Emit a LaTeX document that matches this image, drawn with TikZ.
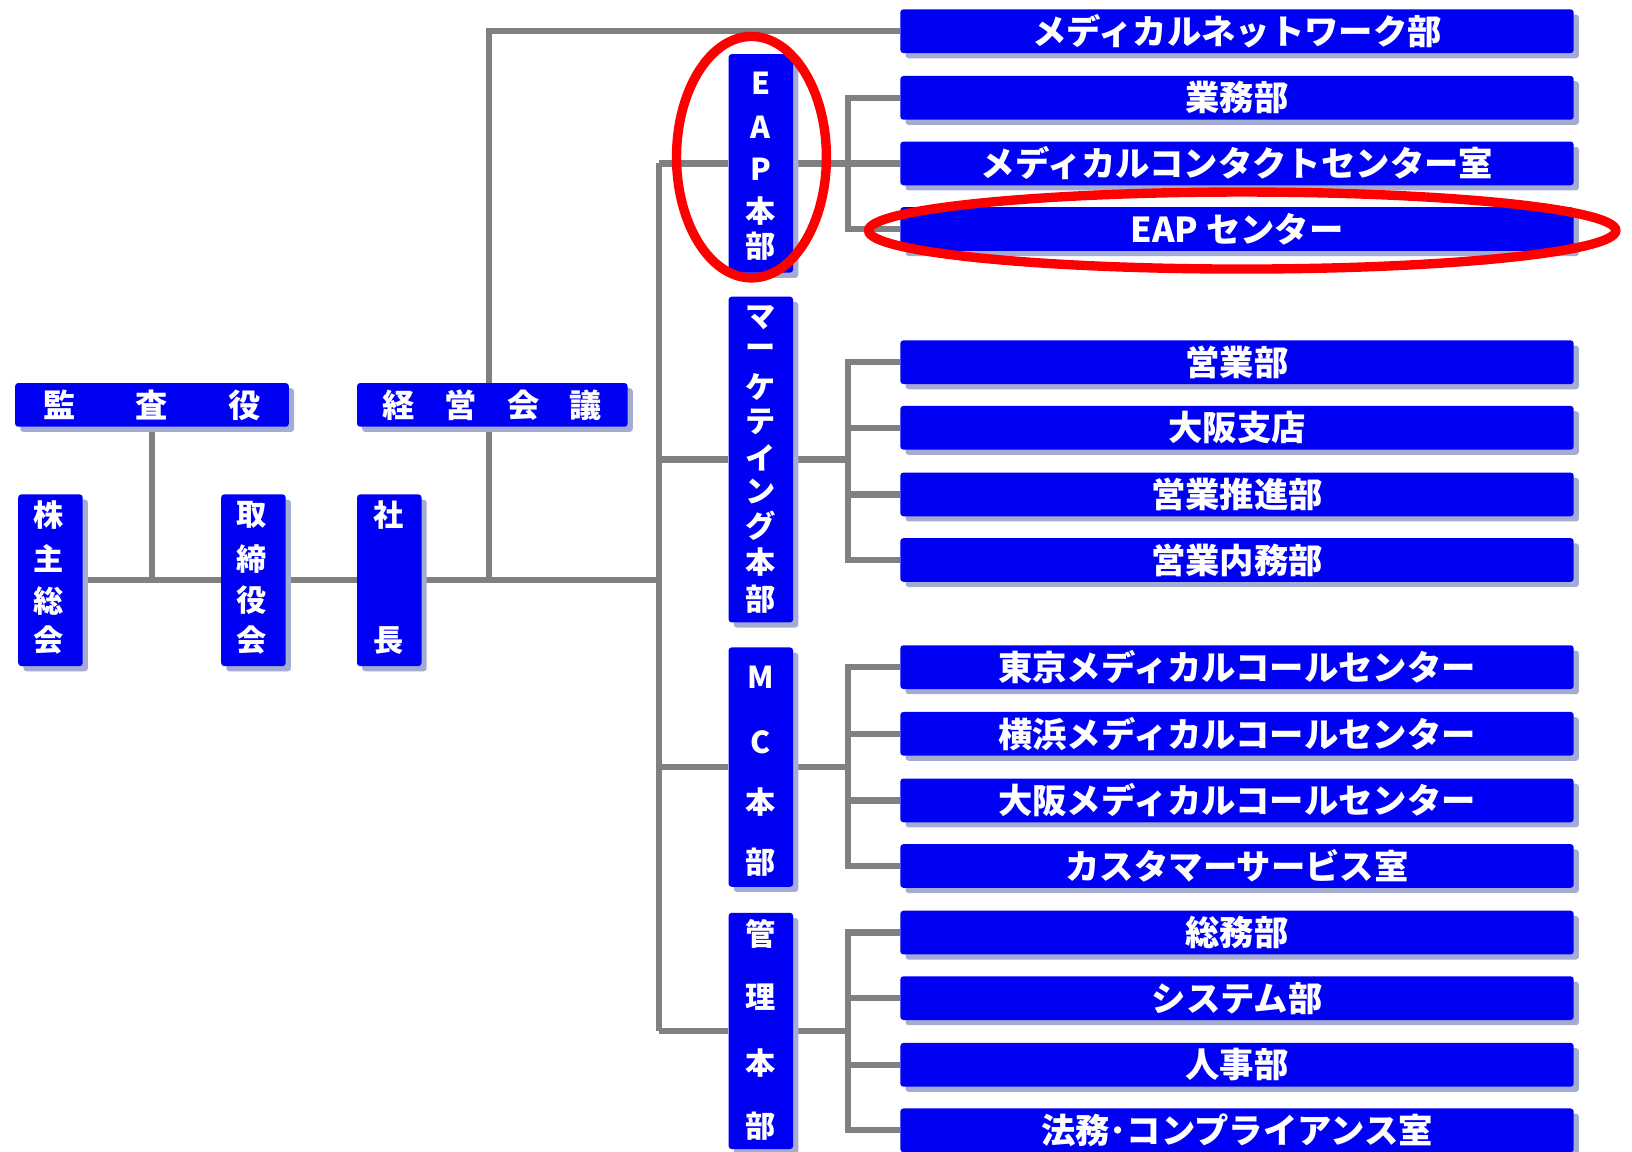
\documentclass[tikz,border=0pt]{standalone}
\usepackage{fontspec}
\setmainfont{Noto Sans CJK JP}
\usetikzlibrary{shadows}
\definecolor{boxblue}{RGB}{0,0,245}
\definecolor{shadecol}{RGB}{165,172,212}
\definecolor{linegray}{RGB}{128,128,128}
\definecolor{ringred}{RGB}{255,0,0}
\pgfdeclarelayer{bg}
\pgfsetlayers{bg,main}
\tikzset{
  box/.style={fill=boxblue, rounded corners=3pt, inner sep=0pt, text=white,
    drop shadow={shadow xshift=5pt, shadow yshift=-5pt, fill=shadecol, opacity=1}},
  wide/.style={box, minimum width=647pt, minimum height=42pt, font=\bfseries\fontsize{33}{33}\selectfont},
  flat/.style={box, minimum height=42pt, font=\bfseries\fontsize{31}{31}\selectfont},
  tall/.style={box, minimum width=62pt},
  vch/.style={text=white, inner sep=0pt, font=\bfseries\fontsize{29}{29}\selectfont},
  conn/.style={draw=linegray, line width=6pt},
  ring/.style={draw=ringred, line width=9pt},
}
\begin{document}
\begin{tikzpicture}[x=1pt,y=-1pt]
\useasboundingbox (0,0) rectangle (1568,1106);

% left part
\node[flat, minimum width=263pt] (kansa) at (146,389) {監\hspace{58pt}査\hspace{58pt}役};
\node[flat, minimum width=260pt] (keiei) at (473,389) {経\hspace{29pt}営\hspace{29pt}会\hspace{29pt}議};
\node[tall, minimum height=165pt] (kabu) at (48.5,557.5) {};
\node[tall, minimum height=165pt] (tori) at (243.5,557.5) {};
\node[tall, minimum height=165pt] (shacho) at (374,557.5) {};
\foreach \c/\y [count=\i] in {株/495,主/537,総/577,会/615} \node[vch] (kabu\i) at (47,\y) {\c};
\foreach \c/\y [count=\i] in {取/495,締/537,役/577,会/615} \node[vch] (tori\i) at (242,\y) {\c};
\node[vch] (sha1) at (373,495) {社};
\node[vch] (sha2) at (373,615) {長};

% division boxes
\node[tall, minimum height=210pt] (eap) at (731,157) {};
\node[tall, minimum height=313pt] (mkt) at (731,441.5) {};
\node[tall, minimum height=230pt] (mc) at (731,737) {};
\node[tall, minimum height=227pt] (kanri) at (731,990.5) {};
\foreach \c/\y [count=\i] in {E/80,A/122,P/163,本/203,部/237} \node[vch] (eapt\i) at (731,\y) {\c};
\foreach \c/\y [count=\i] in {マ/305,ー/337,ケ/372,テ/405,イ/440,ン/472,グ/505,本/540,部/576} \node[vch] (mktt\i) at (731,\y) {\c};
\foreach \c/\y [count=\i] in {M/651,C/713,本/771,部/828} \node[vch] (mct\i) at (731,\y) {\c};
\foreach \c/\y [count=\i] in {管/897,理/958,本/1021,部/1082} \node[vch] (kant\i) at (731,\y) {\c};

% right boxes
\node[wide] (net) at (1188.5,30) {メディカルネットワーク部};
\node[wide] (gyomu) at (1188.5,94) {業務部};
\node[wide] (mcc) at (1188.5,157) {メディカルコンタクトセンター室};
\node[wide] (eapc) at (1188.5,220) {EAP センター};
\node[wide] (eigyo) at (1188.5,348) {営業部};
\node[wide] (osaka) at (1188.5,411) {大阪支店};
\node[wide] (suishin) at (1188.5,475) {営業推進部};
\node[wide] (naimu) at (1188.5,538) {営業内務部};
\node[wide] (tokyo) at (1188.5,641) {東京メディカルコールセンター};
\node[wide] (yoko) at (1188.5,705) {横浜メディカルコールセンター};
\node[wide] (osmc) at (1188.5,769) {大阪メディカルコールセンター};
\node[wide] (cs) at (1188.5,832) {カスタマーサービス室};
\node[wide] (somu) at (1188.5,896) {総務部};
\node[wide] (sys) at (1188.5,959) {システム部};
\node[wide] (jinji) at (1188.5,1023) {人事部};
\node[wide] (homu) at (1188.5,1086) {法務･コンプライアンス室};

% junction coordinates
\coordinate (j1) at (146,557.5);
\coordinate (j2) at (470,557.5);
\coordinate (j3) at (633,557.5);
\coordinate (t1) at (633,157);
\coordinate (t2) at (633,441.5);
\coordinate (t3) at (633,737);
\coordinate (t4) at (633,990.5);
\coordinate (k1) at (470,30);
\coordinate (b1) at (815,157);
\coordinate (b2) at (815,441.5);
\coordinate (b3) at (815,737);
\coordinate (b4) at (815,990.5);

\begin{pgfonlayer}{bg}
\fill[white] (0,0) rectangle (1568,1106);
\draw[conn] (kabu.east) -- (tori.west);
\draw[conn] (kansa.south) -- (kansa.south |- j1);
\draw[conn] (tori.east) -- (shacho.west);
\draw[conn] (shacho.east) -- (j3);
\draw[conn] (j2) -- (k1) -- (net.west);
\draw[conn] (t1) -- (t4);
\draw[conn] (t1) -- (eap.west);
\draw[conn] (t2) -- (mkt.west);
\draw[conn] (t3) -- (mc.west);
\draw[conn] (t4) -- (kanri.west);
% EAP
\draw[conn] (eap.east) -- (mcc.west);
\draw[conn] (gyomu.west) -| (b1) |- (eapc.west);
% marketing
\draw[conn] (mkt.east) -- (b2);
\draw[conn] (eigyo.west) -| (b2) |- (naimu.west);
\draw[conn] (osaka.west) -- (osaka.west -| b2);
\draw[conn] (suishin.west) -- (suishin.west -| b2);
% MC
\draw[conn] (mc.east) -- (b3);
\draw[conn] (tokyo.west) -| (b3) |- (cs.west);
\draw[conn] (yoko.west) -- (yoko.west -| b3);
\draw[conn] (osmc.west) -- (osmc.west -| b3);
% kanri
\draw[conn] (kanri.east) -- (b4);
\draw[conn] (somu.west) -| (b4) |- (homu.west);
\draw[conn] (sys.west) -- (sys.west -| b4);
\draw[conn] (jinji.west) -- (jinji.west -| b4);
\end{pgfonlayer}

% red rings
\draw[ring] (eap.center) ++(-9,-6) coordinate (r1) ellipse [x radius=72, y radius=116];
\draw[ring] (eapc.center) ++(5,1.5) coordinate (r2) ellipse [x radius=359, y radius=37];
\end{tikzpicture}
\end{document}
